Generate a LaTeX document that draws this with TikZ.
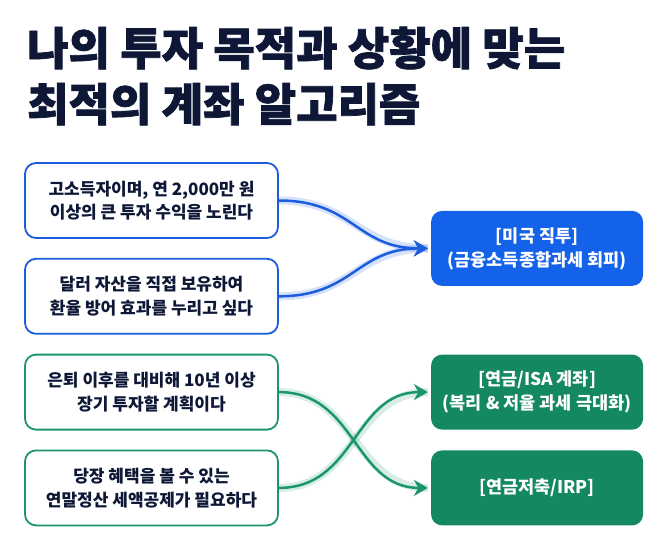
\documentclass[tikz,border=0pt]{standalone}
\usepackage{fontspec}
\setmainfont{Noto Sans CJK KR}
\newfontfamily\titlefont[BoldFeatures={FakeBold=1.6}]{Noto Sans CJK KR}
\usetikzlibrary{positioning, calc, arrows.meta}
\definecolor{navy}{RGB}{14,24,54}
\definecolor{bluefill}{RGB}{20,98,234}
\definecolor{blueline}{RGB}{28,92,222}
\definecolor{greenfill}{RGB}{20,136,96}
\definecolor{greenline}{RGB}{26,150,108}

\begin{document}
\begin{tikzpicture}[x=1pt, y=1pt,
    ask/.style={rectangle, rounded corners=11pt, draw=#1, line width=1.8pt, fill=white,
      minimum width=253pt, minimum height=75pt, align=center, text=navy,
      font=\bfseries\fontsize{17}{23.5}\selectfont},
    acct/.style={rectangle, rounded corners=11pt, fill=#1,
      minimum width=212pt, minimum height=75pt, align=center, text=white,
      font=\bfseries\fontsize{17.5}{24}\selectfont},
    flow/.style={draw=#1, line width=2.5pt, -{Stealth[length=14pt,width=16pt,inset=4.5pt]},
      shorten >=3pt, preaction={draw=#1, line width=8pt, draw opacity=0.18, -}},
    heading/.style={anchor=base west, inner sep=0pt, text=navy,
      font=\titlefont\bfseries\fontsize{45}{52}\selectfont},
    node distance=19pt]

  \useasboundingbox (0,0) rectangle (660,-543);

  % title
  \node[heading] (T1) at (27,-65) {나의 투자 목적과 상황에 맞는};
  \node[heading] (T2) at (27,-121) {최적의 계좌 알고리즘};

  % situations
  \node[ask=blueline] (A) at (151.5,-200.5) {고소득자이며, 연 2,000만 원\\이상의 큰 투자 수익을 노린다};
  \node[ask=blueline, below=of A] (B) {달러 자산을 직접 보유하여\\환율 방어 효과를 누리고 싶다};
  \node[ask=greenline, below=of B] (C) {은퇴 이후를 대비해 10년 이상\\장기 투자할 계획이다};
  \node[ask=greenline, below=of C] (D) {당장 혜택을 볼 수 있는\\연말정산 세액공제가 필요하다};

  % accounts
  \coordinate (AB) at ($(A.east)!0.5!(B.east)$);
  \node[acct=bluefill, right=152pt of AB] (E) {[미국 직투]\\(금융소득종합과세 회피)};
  \node[acct=greenfill, right=152pt of C] (F) {[연금/ISA 계좌]\\(복리 \& 저율 과세 극대화)};
  \node[acct=greenfill, right=152pt of D] (G) {[연금저축/IRP]};

  \draw[flow=blueline] (A.east) to[out=0, in=180, looseness=1.2] (E.west);
  \draw[flow=blueline] (B.east) to[out=0, in=180, looseness=1.2] (E.west);
  \draw[flow=greenline] (C.east) to[out=0, in=180, looseness=1.1] (G.west);
  \draw[flow=greenline] (D.east) to[out=0, in=180, looseness=1.1] (F.west);
\end{tikzpicture}
\end{document}
